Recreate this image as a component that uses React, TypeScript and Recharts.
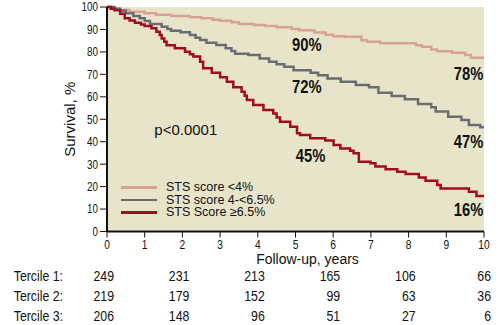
import { LineChart, Line, XAxis, YAxis, CartesianGrid, Legend, ReferenceDot } from 'recharts'

const SANS = "'Liberation Sans', Arial, sans-serif"

const yearTicks = [0, 1, 2, 3, 4, 5, 6, 7, 8, 9, 10]
const survivalTicks = [0, 10, 20, 30, 40, 50, 60, 70, 80, 90, 100]

// numbers at risk
const riskYears = [0, 2, 4, 6, 8, 10]
const tercile1 = [249, 231, 213, 165, 106, 66]
const tercile2 = [219, 179, 152, 99, 63, 36]
const tercile3 = [206, 148, 96, 51, 27, 6]

// [years, survival %]
const lowScore = [
  [0, 100], [0.15, 99.2], [0.3, 98.7], [0.6, 97.9], [1.0, 97.2], [1.3, 96.5], [1.7, 96], [2.2, 95.4],
  [2.5, 95], [2.8, 94.3], [3.0, 93.9], [3.3, 93.2], [3.5, 92.4], [3.9, 92], [4.2, 91.5], [4.5, 91.0],
  [4.9, 90.2], [5.1, 89.6], [5.5, 88.6], [5.8, 87.6], [6.0, 87.0], [6.3, 86.7], [6.75, 85.2], [6.9, 84.5],
  [7.25, 83.8], [8.2, 83.0], [8.35, 82.3], [8.6, 81.1], [8.75, 80.3], [9.15, 79.6], [9.5, 78.6],
  [9.65, 77.4], [10, 77.4],
]

const midScore = [
  [0, 100], [0.2, 99.2], [0.35, 98.3], [0.5, 97.2], [0.7, 96], [0.87, 95], [1.0, 93.8], [1.14, 92.4],
  [1.45, 91.2], [1.6, 90.2], [1.7, 89.4], [1.95, 88.7], [2.2, 87.5], [2.35, 86.3], [2.47, 85.3],
  [2.64, 84.1], [2.9, 83.1], [3.15, 81.6], [3.3, 80.4], [3.4, 79.2], [3.75, 78.6], [4.05, 77.1],
  [4.3, 75.6], [4.5, 74.5], [4.7, 73.4], [4.95, 71.8], [5.4, 70.7], [5.6, 69.6], [5.85, 68.2],
  [6.2, 66.7], [6.6, 65.3], [6.95, 64.2], [7.2, 61.8], [7.55, 60.4], [7.9, 58.9], [8.25, 56.8],
  [8.6, 55.3], [8.72, 53.4], [9.05, 51.1], [9.4, 49.7], [9.6, 47.4], [9.9, 46.4], [10, 46.4],
]

const highScore = [
  [0, 100], [0.1, 99.2], [0.2, 98.6], [0.35, 97], [0.47, 95], [0.6, 94], [0.74, 93], [0.9, 92.2],
  [1.0, 91.5], [1.18, 90.5], [1.31, 89], [1.4, 87.5], [1.45, 86], [1.52, 84.5], [1.58, 83], [1.8, 81.6],
  [2.07, 80.1], [2.2, 79], [2.29, 77.9], [2.47, 75.6], [2.55, 72.7], [2.78, 70.7], [3.0, 68.7],
  [3.18, 66.7], [3.35, 64.2], [3.57, 62.3], [3.65, 60.5], [3.71, 58.6], [3.88, 56.3], [4.15, 54.1],
  [4.41, 52.6], [4.5, 50.8], [4.59, 48.9], [4.86, 46.7], [5.04, 43.8], [5.12, 43], [5.39, 41.5],
  [5.79, 40.5], [6.01, 38.5], [6.19, 37], [6.45, 36], [6.54, 34.8], [6.68, 31.1], [6.99, 30.4],
  [7.12, 28.9], [7.39, 27.7], [7.7, 26.6], [7.92, 25.6], [8.27, 24.1], [8.45, 22.6], [8.76, 20.7],
  [8.85, 19.2], [9.6, 17.7], [9.8, 15.8], [10, 15.8],
]

const pctLabels = [
  { t: 5.3, s: 83.5, text: '90%' },
  { t: 5.3, s: 64.4, text: '72%' },
  { t: 5.4, s: 34.1, text: '45%' },
  { t: 9.59, s: 70.6, text: '78%' },
  { t: 9.59, s: 39.9, text: '47%' },
  { t: 9.59, s: 10, text: '16%' },
]

const series = [
  { name: 'STS score <4%', color: '#d8a392', points: lowScore },
  { name: 'STS score 4-<6.5%', color: '#6b6c70', points: midScore },
  { name: 'STS Score ≥6.5%', color: '#a00d1e', points: highScore },
]

const terciles = [
  { id: 't1', label: 'Tercile 1:', counts: tercile1 },
  { id: 't2', label: 'Tercile 2:', counts: tercile2 },
  { id: 't3', label: 'Tercile 3:', counts: tercile3 },
]

// no narrow font installed, so squeeze Liberation Sans horizontally
function Narrow({ x, y, anchor = 'middle', size = 12, bold = false, squeeze = 0.82, children }: any) {
  return (
    <text
      transform={`translate(${x} ${y}) scale(${squeeze} 1)`}
      textAnchor={anchor}
      dominantBaseline="central"
      fontFamily={SANS}
      fontSize={size}
      fontWeight={bold ? 'bold' : 'normal'}
      fill="#111"
    >
      {children}
    </text>
  )
}

function countTick(counts: number[]) {
  return (props: any) => {
    const i = riskYears.indexOf(props.payload.value)
    return (
      <Narrow x={props.x + 7} y={props.y + 11.5} anchor="end" size={14.5} squeeze={0.85}>
        {counts[i]}
      </Narrow>
    )
  }
}

function LegendBox() {
  return (
    <div style={{ fontFamily: SANS, fontSize: 12.5, lineHeight: '12.5px', color: '#111' }}>
      {series.map((s) => (
        <div key={s.name} style={{ display: 'flex', alignItems: 'center', whiteSpace: 'nowrap', height: 12.5 }}>
          <span style={{ display: 'inline-block', width: 36, height: 2.5, background: s.color, marginRight: 9 }} />
          {s.name}
        </div>
      ))}
    </div>
  )
}

export default function App() {
  return (
    <div style={{ position: 'absolute', left: 0, top: 0, background: '#fff' }}>
      <LineChart width={502} height={325} margin={{ top: 7, right: 18, bottom: 0, left: 40 }}>
        <CartesianGrid fill="#e8e4c9" stroke="none" />
        <XAxis
          type="number"
          dataKey="t"
          domain={[0, 10]}
          ticks={yearTicks}
          interval={0}
          height={33.5}
          tickSize={6}
          tickMargin={3}
          axisLine={{ stroke: '#111', strokeWidth: 2 }}
          tickLine={{ stroke: '#111' }}
          tick={(p: any) => (
            <Narrow x={p.x} y={p.y + 4} size={12.5}>
              {p.payload.value}
            </Narrow>
          )}
          label={{ value: 'Follow-up, years', position: 'insideBottom', offset: 1, dx: 12, fontFamily: SANS, fontSize: 14, fill: '#111' }}
        />
        {terciles.map((tc) => (
          <XAxis
            key={tc.id}
            xAxisId={tc.id}
            type="number"
            dataKey="t"
            domain={[0, 10]}
            ticks={riskYears}
            interval={0}
            height={20}
            tickSize={0}
            tickMargin={0}
            axisLine={false}
            tickLine={false}
            tick={countTick(tc.counts)}
            label={{
              content: (p: any) => (
                <Narrow x={p.viewBox.x - 44} y={p.viewBox.y + 11.5} anchor="end" size={14.5} squeeze={0.85}>
                  {tc.label}
                </Narrow>
              ),
            }}
          />
        ))}
        <YAxis
          type="number"
          domain={[0, 100]}
          ticks={survivalTicks}
          interval={0}
          width={67}
          tickSize={7}
          tickMargin={2}
          axisLine={{ stroke: '#111', strokeWidth: 2 }}
          tickLine={{ stroke: '#111' }}
          tick={(p: any) => (
            <Narrow x={p.x} y={p.y} anchor="end" size={12}>
              {p.payload.value}
            </Narrow>
          )}
          label={{ value: 'Survival, %', angle: -90, position: 'center', dx: -4, fontFamily: SANS, fontSize: 15, fill: '#111' }}
        />
        {series.map((s) => (
          <Line
            key={s.name}
            name={s.name}
            data={s.points.map(([t, v]) => ({ t, s: v }))}
            dataKey="s"
            type="stepAfter"
            stroke={s.color}
            strokeWidth={2.5}
            dot={false}
            activeDot={false}
            isAnimationActive={false}
          />
        ))}
        {/* empty series so each risk-table axis has a domain */}
        {terciles.map((tc) => (
          <Line
            key={'risk-' + tc.id}
            xAxisId={tc.id}
            data={riskYears.map((t) => ({ t }))}
            dataKey="s"
            stroke="none"
            dot={false}
            activeDot={false}
            legendType="none"
            isAnimationActive={false}
          />
        ))}
        <ReferenceDot
          x={2.09}
          y={45.2}
          r={0}
          fill="none"
          stroke="none"
          label={{ value: 'p<0.0001', position: 'center', fontFamily: SANS, fontSize: 15, fill: '#111' }}
        />
        {pctLabels.map((p) => (
          <ReferenceDot
            key={p.text}
            x={p.t}
            y={p.s}
            r={0}
            shape={(d: any) => (
              <Narrow x={d.cx} y={d.cy} size={18} bold>
                {p.text}
              </Narrow>
            )}
          />
        ))}
        <Legend
          layout="vertical"
          align="center"
          verticalAlign="middle"
          content={() => <LegendBox />}
          wrapperStyle={{ left: 121, top: 181, width: 200, height: 40 }}
        />
      </LineChart>
    </div>
  )
}
